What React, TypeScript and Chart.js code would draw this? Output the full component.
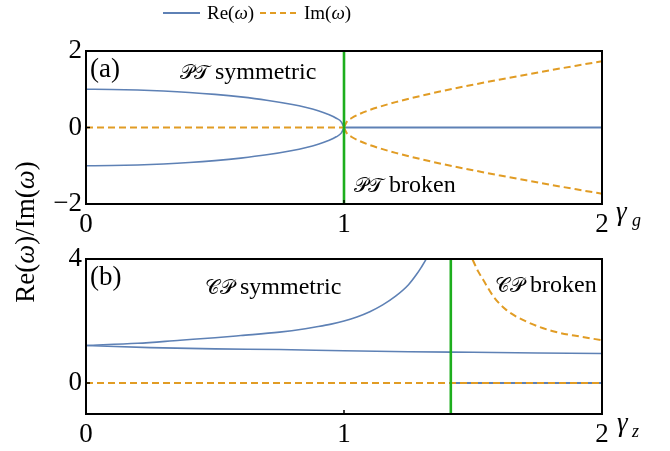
import React, { useEffect, useRef } from 'react';
import { Chart, registerables } from 'chart.js';

Chart.register(...registerables);

// ---------- Panel (a): PT-symmetric dimer ----------
const xTicks = [0, 1, 2];
const yTicksA = [-2, 0, 2];
const yRangeA = [-2, 2];
const criticalA = 1;

const gammaA_sym = [0, 0.1, 0.2, 0.3, 0.4, 0.5, 0.6, 0.7, 0.8, 0.85, 0.9, 0.94, 0.97, 0.99, 1.0];
const reA_upper = [1, 0.995, 0.98, 0.954, 0.917, 0.866, 0.8, 0.714, 0.6, 0.527, 0.436, 0.341, 0.243, 0.141, 0];
const reA_lower = [-1, -0.995, -0.98, -0.954, -0.917, -0.866, -0.8, -0.714, -0.6, -0.527, -0.436, -0.341, -0.243, -0.141, 0];
const gammaA_imZero = [0, 1];
const imA_zero = [0, 0];

const gammaA_brk = [1.0, 1.01, 1.03, 1.06, 1.1, 1.2, 1.3, 1.4, 1.5, 1.6, 1.7, 1.8, 1.9, 2.0];
const imA_upper = [0, 0.142, 0.248, 0.352, 0.458, 0.663, 0.831, 0.98, 1.118, 1.249, 1.375, 1.497, 1.616, 1.732];
const imA_lower = [0, -0.142, -0.248, -0.352, -0.458, -0.663, -0.831, -0.98, -1.118, -1.249, -1.375, -1.497, -1.616, -1.732];
const gammaA_reZero = [1, 2];
const reA_zero = [0, 0];

// ---------- Panel (b): CP-symmetric ----------
const yTicksB = [0, 4];
const yRangeB = [-1, 4];
const criticalB = 1.414;

const gammaB_up = [0, 0.2, 0.365, 0.5, 0.6, 0.75, 0.85, 0.9, 0.95, 1.0, 1.05, 1.1, 1.15, 1.2, 1.25, 1.28, 1.3, 1.32, 1.33];
const reB_upper = [1.21, 1.28, 1.38, 1.46, 1.53, 1.64, 1.75, 1.82, 1.9, 2.0, 2.13, 2.3, 2.52, 2.8, 3.17, 3.49, 3.74, 4.02, 4.2];
const gammaB_low = [0, 0.25, 0.5, 0.75, 1.0, 1.25, 1.5, 1.75, 2.0];
const reB_lower = [1.21, 1.14, 1.1, 1.08, 1.04, 1.01, 0.99, 0.97, 0.95];
const gammaB_reZero = [1.414, 2];
const reB_zero = [0, 0];
const gammaB_imZero = [0, 2];
const imB_zero = [0, 0];
const gammaB_im = [1.48, 1.5, 1.52, 1.54, 1.58, 1.63, 1.71, 1.81, 1.92, 2.0];
const imB_branch = [4.3, 3.95, 3.6, 3.32, 2.78, 2.35, 1.97, 1.67, 1.49, 1.38];

// ---------- styles ----------
const BLUE = '#5E81B5';
const ORANGE = '#E19C24';
const GREEN = '#1DAE1D';
const SERIF = "'Liberation Serif', 'Times New Roman', serif";
const SCRIPT = "'DejaVu Serif', 'DejaVu Sans', 'Liberation Serif', serif";

const pts = (xs: number[], ys: number[]) => xs.map((x, i) => ({ x, y: ys[i] }));

type Run = [string, string];
function drawRuns(ctx: CanvasRenderingContext2D, runs: Run[], x: number, y: number, align: 'left' | 'center' | 'right') {
  const widths = runs.map(([t, f]) => {
    ctx.font = f;
    return ctx.measureText(t).width;
  });
  const total = widths.reduce((a, b) => a + b, 0);
  let cx = align === 'center' ? x - total / 2 : align === 'right' ? x - total : x;
  ctx.textAlign = 'left';
  runs.forEach(([t, f], i) => {
    ctx.font = f;
    ctx.fillText(t, cx, y);
    cx += widths[i];
  });
}

// script symbol right-aligned just before the word, word at its own position
function scriptLabel(ctx: CanvasRenderingContext2D, sym: string, word: string, wordX: number, y: number) {
  drawRuns(ctx, [[sym, `20px ${SCRIPT}`]], wordX - 6, y, 'right');
  drawRuns(ctx, [[word, `24px ${SERIF}`]], wordX, y, 'left');
}

function frameAndTicks(chart: any, yTicks: number[]) {
  const ctx: CanvasRenderingContext2D = chart.ctx;
  const { left, top, right, bottom } = chart.chartArea;
  const xs = chart.scales.x;
  const ys = chart.scales.y;
  ctx.save();
  ctx.strokeStyle = '#000';
  ctx.lineWidth = 1.5;
  xTicks.forEach((v) => {
    const px = xs.getPixelForValue(v);
    ctx.beginPath();
    ctx.moveTo(px, bottom);
    ctx.lineTo(px, bottom - 4);
    ctx.stroke();
  });
  yTicks.forEach((v) => {
    const py = ys.getPixelForValue(v);
    ctx.beginPath();
    ctx.moveTo(left, py);
    ctx.lineTo(left + 4, py);
    ctx.stroke();
  });
  ctx.lineWidth = 2;
  ctx.strokeRect(left, top, right - left, bottom - top);
  ctx.restore();
}

function lineDs(data: { x: number; y: number }[], color: string, dashed: boolean, width: number, smooth = true) {
  return {
    data,
    borderColor: color,
    backgroundColor: color,
    borderWidth: width,
    borderDash: dashed ? [7, 4] : [],
    pointRadius: 0,
    fill: false,
    cubicInterpolationMode: smooth ? 'monotone' : 'default',
    tension: 0,
  };
}

function baseScales(yRange: number[], yTicks: number[], xHeight: number) {
  const tickFont = { family: SERIF, size: 27 };
  return {
    x: {
      type: 'linear',
      min: 0,
      max: 2,
      afterBuildTicks: (s: any) => {
        s.ticks = xTicks.map((v) => ({ value: v }));
      },
      afterFit: (s: any) => {
        s.height = xHeight;
      },
      grid: { display: false, drawTicks: false },
      border: { display: false },
      ticks: { font: tickFont, color: '#000', padding: 5, maxRotation: 0, callback: (v: any) => String(v) },
    },
    y: {
      type: 'linear',
      min: yRange[0],
      max: yRange[1],
      afterBuildTicks: (s: any) => {
        s.ticks = yTicks.map((v) => ({ value: v }));
      },
      afterFit: (s: any) => {
        s.width = 86;
      },
      grid: { display: false, drawTicks: false },
      border: { display: false },
      ticks: {
        font: tickFont,
        color: '#000',
        padding: 4,
        callback: (v: any) => (v < 0 ? '\u2212' + Math.abs(v) : String(v)),
      },
    },
  };
}

export default function App() {
  const refA = useRef<HTMLCanvasElement>(null);
  const refB = useRef<HTMLCanvasElement>(null);

  useEffect(() => {
    const annotA = {
      id: 'annotA',
      afterDatasetsDraw(chart: any) {
        frameAndTicks(chart, yTicksA);
        const ctx: CanvasRenderingContext2D = chart.ctx;
        const { left, top, right, bottom } = chart.chartArea;
        ctx.save();
        ctx.fillStyle = '#000';
        ctx.textBaseline = 'alphabetic';
        // panel labels
        drawRuns(ctx, [['(a)', `27px ${SERIF}`]], left + 4, top + 26, 'left');
        scriptLabel(ctx, '\u{1D4AB}\u{1D4AF}', 'symmetric', left + 129, top + 28);
        scriptLabel(ctx, '\u{1D4AB}\u{1D4AF}', 'broken', left + 303, bottom - 12);
        // axis variable
        drawRuns(ctx, [['\u03B3', `italic 27px ${SERIF}`]], right + 14, bottom + 16, 'left');
        drawRuns(ctx, [['g', `italic 18px ${SERIF}`]], right + 30, bottom + 22, 'left');
        // shared y title
        ctx.save();
        ctx.translate(27, 232);
        ctx.rotate(-Math.PI / 2);
        ctx.textBaseline = 'middle';
        drawRuns(
          ctx,
          [
            ['Re(', `27px ${SERIF}`],
            ['\u03C9', `italic 27px ${SERIF}`],
            [')/Im(', `27px ${SERIF}`],
            ['\u03C9', `italic 27px ${SERIF}`],
            [')', `27px ${SERIF}`],
          ],
          0,
          0,
          'center'
        );
        ctx.restore();
        // legend
        ctx.lineWidth = 2;
        ctx.strokeStyle = BLUE;
        ctx.beginPath();
        ctx.moveTo(163, 13);
        ctx.lineTo(200, 13);
        ctx.stroke();
        ctx.strokeStyle = ORANGE;
        ctx.setLineDash([6, 4]);
        ctx.beginPath();
        ctx.moveTo(260, 13);
        ctx.lineTo(297, 13);
        ctx.stroke();
        ctx.setLineDash([]);
        ctx.textBaseline = 'alphabetic';
        drawRuns(
          ctx,
          [
            ['Re(', `19px ${SERIF}`],
            ['\u03C9', `italic 19px ${SERIF}`],
            [')', `19px ${SERIF}`],
          ],
          207,
          19,
          'left'
        );
        drawRuns(
          ctx,
          [
            ['Im(', `19px ${SERIF}`],
            ['\u03C9', `italic 19px ${SERIF}`],
            [')', `19px ${SERIF}`],
          ],
          304,
          19,
          'left'
        );
        ctx.restore();
      },
    };

    const annotB = {
      id: 'annotB',
      afterDatasetsDraw(chart: any) {
        frameAndTicks(chart, yTicksB);
        const ctx: CanvasRenderingContext2D = chart.ctx;
        const { left, top, right, bottom } = chart.chartArea;
        ctx.save();
        ctx.fillStyle = '#000';
        ctx.textBaseline = 'alphabetic';
        drawRuns(ctx, [['(b)', `27px ${SERIF}`]], left + 4, top + 26, 'left');
        scriptLabel(ctx, '\u{1D49E}\u{1D4AB}', 'symmetric', left + 154, top + 35);
        scriptLabel(ctx, '\u{1D49E}\u{1D4AB}', 'broken', left + 444, top + 33);
        drawRuns(ctx, [['\u03B3', `italic 27px ${SERIF}`]], right + 15, bottom + 17, 'left');
        drawRuns(ctx, [['z', `italic 18px ${SERIF}`]], right + 30, bottom + 23, 'left');
        ctx.restore();
      },
    };

    const common = {
      responsive: false,
      maintainAspectRatio: false,
      animation: false,
      events: [],
    };

    const chartA = new Chart(refA.current as HTMLCanvasElement, {
      type: 'line',
      data: {
        datasets: [
          lineDs(pts([criticalA, criticalA], yRangeA), GREEN, false, 2.6, false),
          lineDs(pts(gammaA_imZero, imA_zero), ORANGE, true, 2),
          lineDs(pts(gammaA_brk, imA_upper), ORANGE, true, 2),
          lineDs(pts(gammaA_brk, imA_lower), ORANGE, true, 2),
          lineDs(pts(gammaA_sym, reA_upper), BLUE, false, 1.6),
          lineDs(pts(gammaA_sym, reA_lower), BLUE, false, 1.6),
          lineDs(pts(gammaA_reZero, reA_zero), BLUE, false, 2),
        ] as any,
      },
      options: {
        ...common,
        layout: { padding: { top: 51, left: 0, right: 68, bottom: 210 } },
        plugins: { legend: { display: false }, tooltip: { enabled: false } },
        scales: baseScales(yRangeA, yTicksA, 37) as any,
      } as any,
      plugins: [annotA],
    });

    const chartB = new Chart(refB.current as HTMLCanvasElement, {
      type: 'line',
      data: {
        datasets: [
          lineDs(pts([criticalB, criticalB], yRangeB), GREEN, false, 2.6, false),
          lineDs(pts(gammaB_imZero, imB_zero), ORANGE, true, 2),
          lineDs(pts(gammaB_im, imB_branch), ORANGE, true, 2),
          lineDs(pts(gammaB_up, reB_upper), BLUE, false, 1.6),
          lineDs(pts(gammaB_low, reB_lower), BLUE, false, 1.6),
          lineDs(pts(gammaB_reZero, reB_zero), BLUE, false, 2),
        ] as any,
      },
      options: {
        ...common,
        layout: { padding: { top: 259, left: 0, right: 68, bottom: 0 } },
        plugins: { legend: { display: false }, tooltip: { enabled: false } },
        scales: baseScales(yRangeB, yTicksB, 37) as any,
      } as any,
      plugins: [annotB],
    });

    return () => {
      chartA.destroy();
      chartB.destroy();
    };
  }, []);

  return (
    <div style={{ position: 'absolute', left: 0, top: 0, width: 670, height: 451, background: '#fff' }}>
      <canvas ref={refA} width={670} height={451} style={{ position: 'absolute', left: 0, top: 0 }} />
      <canvas ref={refB} width={670} height={451} style={{ position: 'absolute', left: 0, top: 0 }} />
    </div>
  );
}
